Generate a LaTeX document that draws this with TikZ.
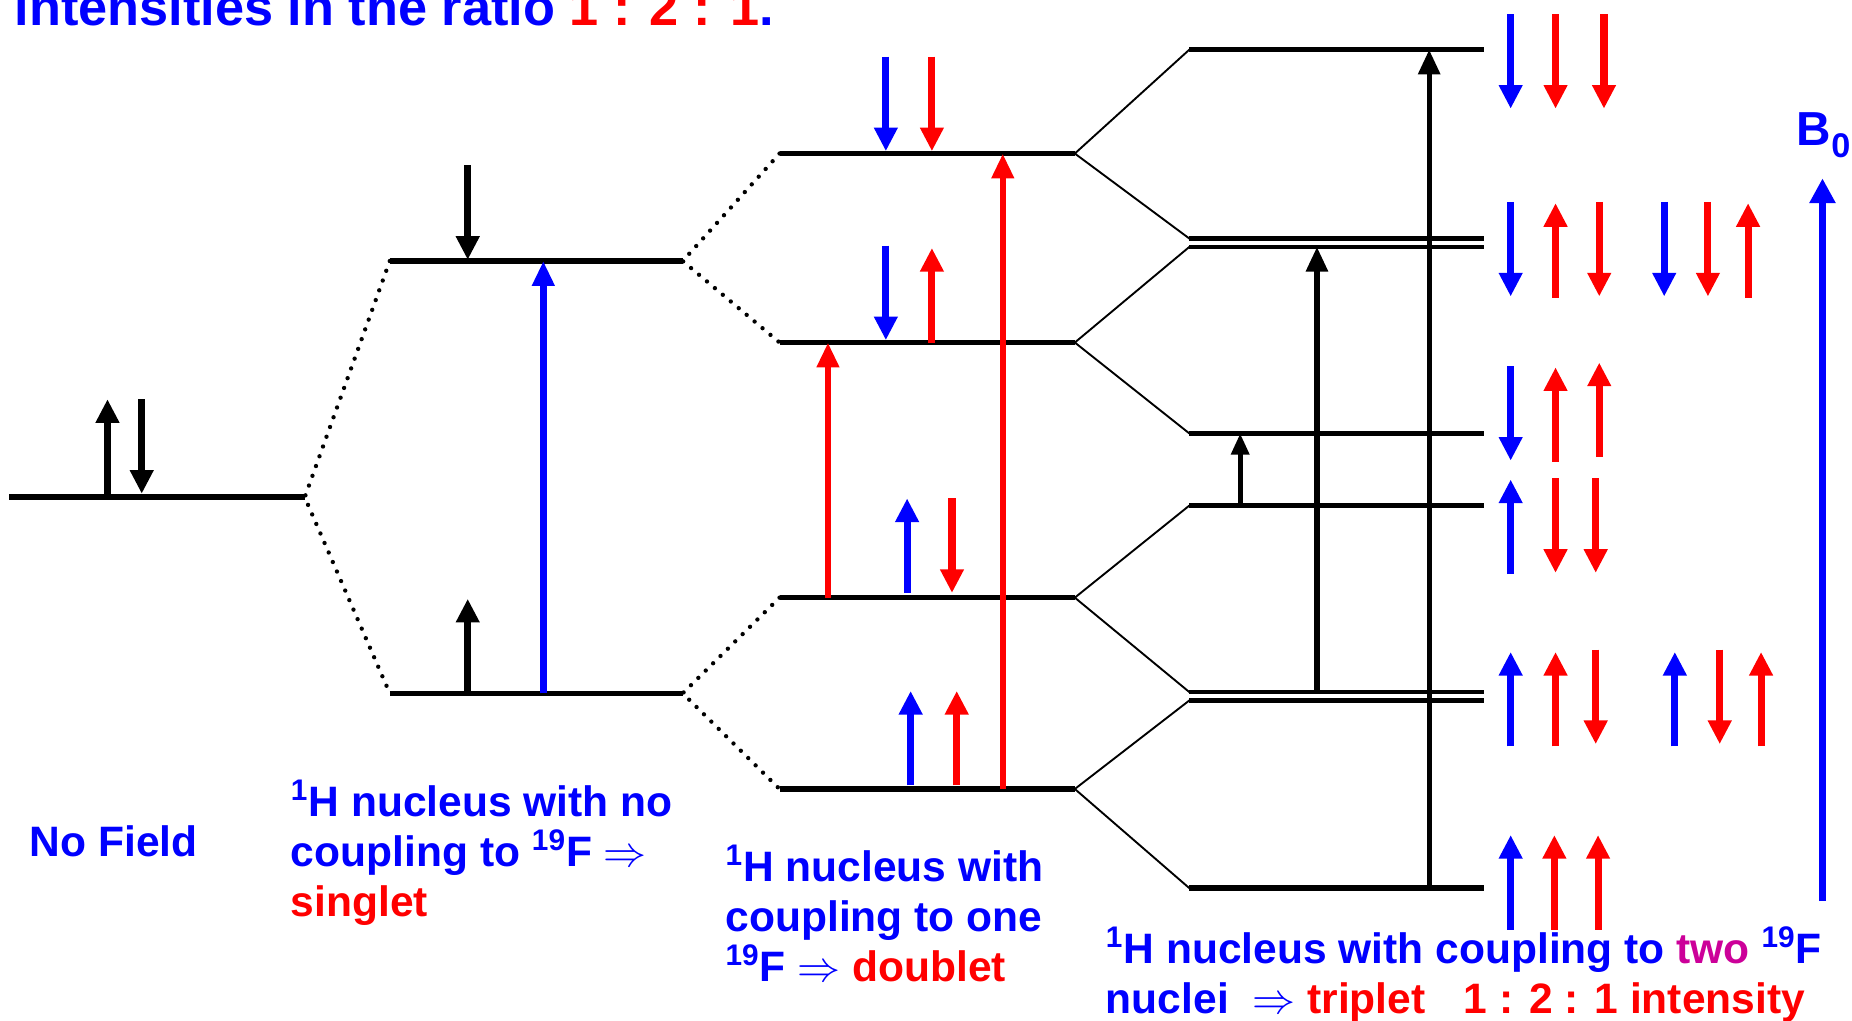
\documentclass[tikz,border=0pt]{standalone}
\usepackage{fontspec}
\setmainfont{Liberation Sans}
\usetikzlibrary{arrows.meta,calc}
\definecolor{hblue}{RGB}{0,0,255}
\definecolor{fred}{RGB}{255,0,0}
\definecolor{twomag}{RGB}{204,0,153}
\tikzset{level/.style={line width=.095cm},
         split/.style={line width=.032cm},
         corr/.style={line width=2.1pt,dash pattern=on 0pt off 5pt,line cap=round},
         spin/.style={-{Triangle[length=.4cm,width=.38cm]},line width=.12cm},
         trans/.style={-{Triangle[length=.42cm,width=.36cm]},line width=.11cm},
         lbl/.style={anchor=base west,inner sep=0pt,align=left,text=hblue,
                     font=\fontsize{20.5}{24.2}\selectfont\bfseries}}
\newcommand\upspin[3][black]{\draw[spin,#1] (#2,#3) -- ++(0,-80);}
\newcommand\downspin[3][black]{\draw[spin,#1] (#2,#3) -- ++(0,80);}
\begin{document}
\begin{tikzpicture}[x=.02cm,y=-.02cm]
  \useasboundingbox (0,0) rectangle (1568,864);
  % energy levels
  \coordinate (nf-l) at (8,421); \coordinate (nf-r) at (258,421);
  \foreach \n/\y in {sa/221,sb/587}{
    \coordinate (\n-l) at (330,\y); \coordinate (\n-r) at (578,\y);}
  \foreach \n/\y in {d1/130,d2/290,d3/506,d4/668}{
    \coordinate (\n-l) at (660,\y); \coordinate (\n-r) at (910,\y);}
  \foreach \n/\y in {t1/42,t2a/202,t2b/209,t3/367,t4/428,t5a/586,t5b/593,t6/752}{
    \coordinate (\n-l) at (1007,\y); \coordinate (\n-r) at (1256,\y);}
  \foreach \n in {nf,sa,sb,d1,d2,d3,d4,t1,t3,t4,t6}
    \draw[level] (\n-l) -- (\n-r);
  \foreach \n in {t2a,t2b,t5a,t5b}
    \draw[level,line width=.075cm] (\n-l) -- (\n-r);
  % correlation lines
  \draw[corr] (sa-l) -- (nf-r) -- (sb-l);
  \draw[corr] (d1-l) -- (sa-r) -- (d2-l);
  \draw[corr] (d3-l) -- (sb-r) -- (d4-l);
  \draw[split] (t1-l) -- (d1-r) -- (t2a-l);
  \draw[split] (t2b-l) -- (d2-r) -- (t3-l);
  \draw[split] (t4-l) -- (d3-r) -- (t5a-l);
  \draw[split] (t5b-l) -- (d4-r) -- (t6-l);
  % transitions
  \draw[trans,hblue] ($(sb-l)+(130,0)$) -- ($(sa-l)+(130,0)$);
  \draw[trans,fred] ($(d3-l)+(41,0)$) -- ($(d2-l)+(41,0)$);
  \draw[trans,fred] ($(d4-l)+(189,0)$) -- ($(d1-l)+(189,0)$);
  \draw[trans,line width=.08cm,-{Triangle[length=.36cm,width=.3cm]}]
    ($(t4-l)+(43,0)$) -- ($(t3-l)+(43,0)$);
  \draw[trans,line width=.09cm] ($(t5a-l)+(108,0)$) -- ($(t2b-l)+(108,0)$);
  \draw[trans,line width=.09cm] ($(t6-l)+(203,0)$) -- ($(t1-l)+(203,0)$);
  % spins
  \upspin{91}{418} \downspin{120}{338}
  \downspin{396}{140} \upspin{396}{587}
  \downspin[hblue]{750}{48}  \downspin[fred]{789}{48}
  \downspin[hblue]{750}{208} \upspin[fred]{789}{290}
  \upspin[hblue]{768}{502}   \downspin[fred]{806}{422}
  \upspin[hblue]{771}{665}   \upspin[fred]{810}{665}
  \downspin[hblue]{1279}{12} \downspin[fred]{1317}{12} \downspin[fred]{1358}{12}
  \downspin[hblue]{1279}{171} \upspin[fred]{1317}{252} \downspin[fred]{1354}{171}
  \downspin[hblue]{1409}{171} \downspin[fred]{1446}{171} \upspin[fred]{1480}{252}
  \downspin[hblue]{1279}{310} \upspin[fred]{1317}{391} \upspin[fred]{1354}{387}
  \upspin[hblue]{1279}{486} \downspin[fred]{1317}{405} \downspin[fred]{1351}{405}
  \upspin[hblue]{1279}{632} \upspin[fred]{1317}{632} \downspin[fred]{1351}{550}
  \upspin[hblue]{1418}{632} \downspin[fred]{1456}{550} \upspin[fred]{1491}{632}
  \upspin[hblue]{1279}{787} \upspin[fred]{1316}{787} \upspin[fred]{1353}{787}
  % field
  \coordinate (b0-foot) at (1543,763); \coordinate (b0-tip) at (1543,151);
  \draw[trans,hblue,line width=.13cm,-{Triangle[length=.42cm,width=.42cm]}] (b0-foot) -- (b0-tip);
  \node[lbl,font=\fontsize{23}{23}\selectfont\bfseries] (bzero) at (1521,123)
    {B\raisebox{-6pt}{\fontsize{16.5}{16.5}\selectfont 0}};
  % labels
  \node[lbl,font=\fontsize{25.2}{30}\selectfont\bfseries] (title) at (12,22)
    {intensities in the ratio \textcolor{fred}{1 : 2 : 1}.};
  \node[lbl] (nofield) at (25,725) {No Field};
  \node[lbl] (singlet) at (246,776)
    {\textsuperscript{1}H nucleus with no\\coupling to \textsuperscript{19}F $\Rightarrow$\\\textcolor{fred}{singlet}};
  \node[lbl] (doublet) at (614,831)
    {\textsuperscript{1}H nucleus with\\coupling to one\\\textsuperscript{19}F $\Rightarrow$ \textcolor{fred}{doublet}};
  \node[lbl] (triplet) at (936,858)
    {\textsuperscript{1}H nucleus with coupling to \textcolor{twomag}{two} \textsuperscript{19}F\\nuclei\ \ $\Rightarrow$ \textcolor{fred}{triplet\hspace{.9em}1 : 2 : 1 intensity}};
\end{tikzpicture}
\end{document}
